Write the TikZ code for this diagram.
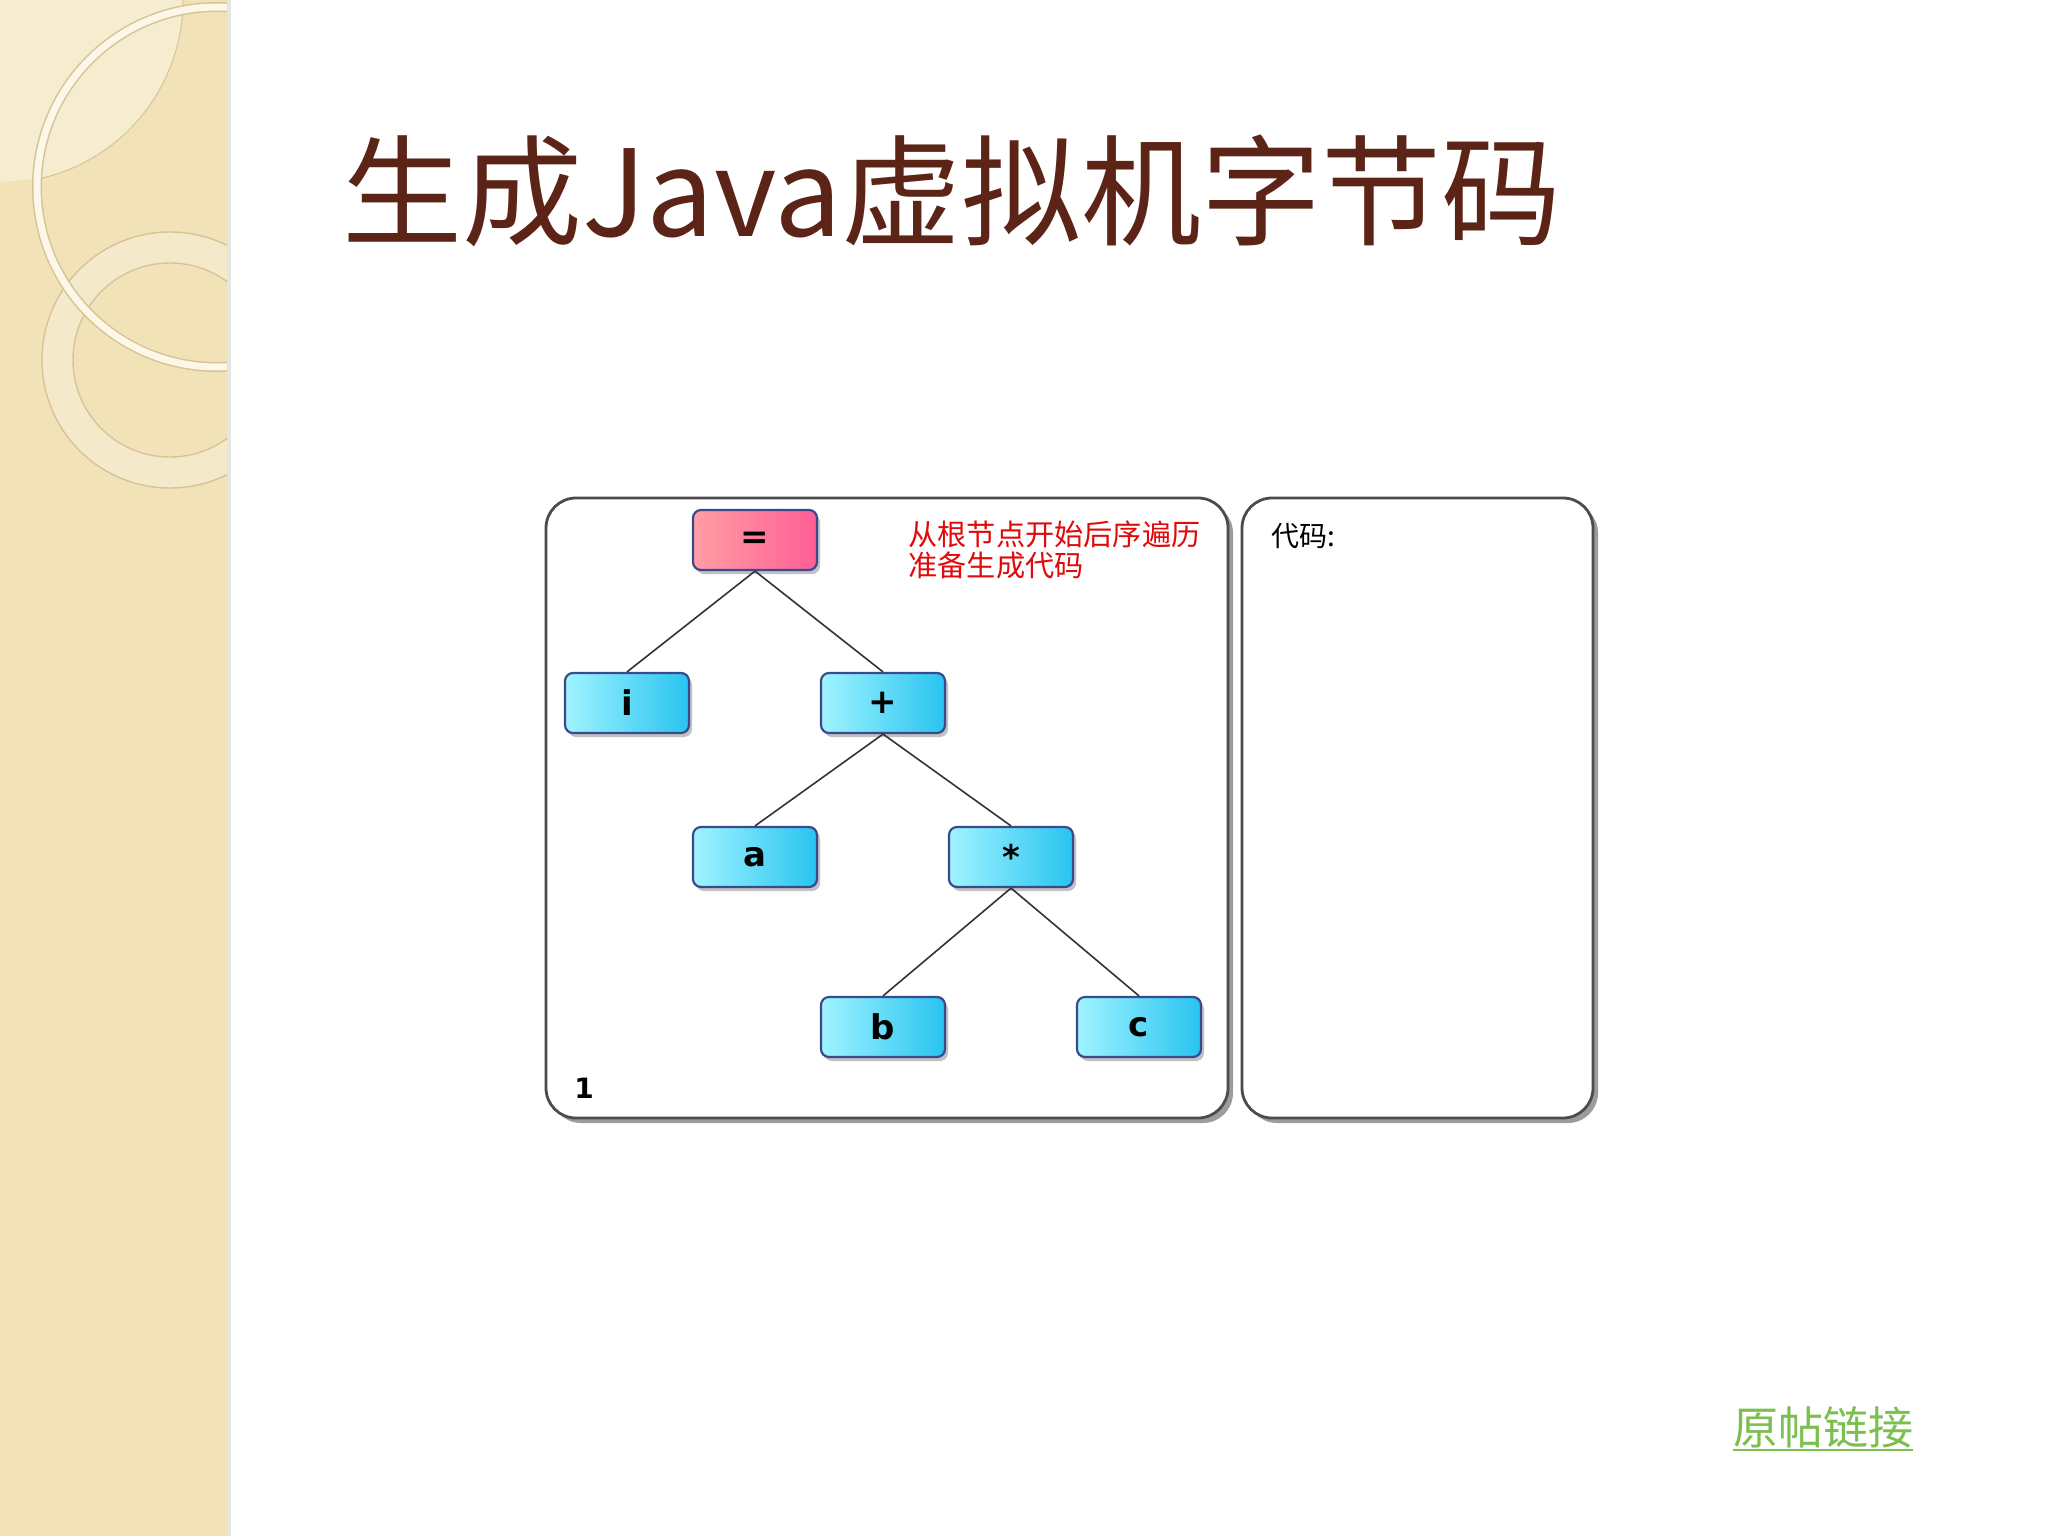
\documentclass[tikz,border=0pt]{standalone}
\usepackage{fontspec}
\newfontfamily\cjk{Noto Sans CJK SC}
\newfontfamily\lab{DejaVu Sans}
\usetikzlibrary{shadows}
\definecolor{side}{HTML}{F2E2B8}
\definecolor{sideline}{HTML}{D8C394}
\definecolor{ringc}{HTML}{FCF7E8}
\definecolor{ringb}{HTML}{F5E9CB}
\definecolor{titlec}{HTML}{5C2416}
\definecolor{cyl}{HTML}{A0F4FF}
\definecolor{cyd}{HTML}{28C3F0}
\definecolor{pkl}{HTML}{FF9EA4}
\definecolor{pkd}{HTML}{FF5E96}
\definecolor{boxline}{HTML}{3B4A8C}
\definecolor{notec}{HTML}{E00A0A}
\definecolor{linkc}{HTML}{7BC04E}
\tikzset{
  panel/.style={draw=black!70, line width=1.4pt, rounded corners=15pt, fill=white,
    drop shadow={shadow xshift=2.5pt, shadow yshift=-2.5pt, opacity=0.55, fill=black!70}},
  tbox/.style={draw=boxline, line width=1.1pt, rounded corners=4pt, minimum width=62pt,
    minimum height=30pt, inner sep=0pt, font=\lab\bfseries\fontsize{17}{17}\selectfont,
    drop shadow={shadow xshift=1.5pt, shadow yshift=-2pt, opacity=0.4, fill=black!60}},
  bluebox/.style={tbox, left color=cyl, right color=cyd},
  pinkbox/.style={tbox, left color=pkl, right color=pkd},
  edge/.style={draw=black!80, line width=0.8pt}
}
\begin{document}
\begin{tikzpicture}[x=0.5pt,y=-0.5pt]
\useasboundingbox (0,0) rectangle (2048,1536);
\fill[white] (0,0) rectangle (2048,1536);
% sidebar
\fill[side] (0,0) rectangle (227,1536);
\fill[black!10] (227,0) rectangle (231,1536);
\begin{scope}
\clip (0,0) rectangle (227,1536);
\fill[white, opacity=0.35] (0,0) -- (183,0) arc[start angle=0, end angle=77, radius=183] -- (0,182) -- cycle;
\draw[sideline, line width=0.5pt] (183,0) arc[start angle=0, end angle=77, radius=183];
\draw[ringb, line width=16pt] (170,360) circle[radius=112];
\draw[sideline, line width=0.7pt] (170,360) circle[radius=97];
\draw[sideline, line width=0.7pt] (170,360) circle[radius=128];
\draw[sideline, line width=5pt] (217,187) circle[radius=180];
\draw[ringc, line width=3.5pt] (217,187) circle[radius=180];
\end{scope}
% title
\node[anchor=base west, inner sep=0, text=titlec,
  font=\cjk\fontsize{60}{60}\selectfont] (title) at (342,236) {生成Java虚拟机字节码};
% panels
\path[panel] (546,498) rectangle (1228,1118);
\path[panel] (1242,498) rectangle (1593,1118);
% tree
\node[pinkbox] (eq) at (755,540) {=};
\node[bluebox] (i) at (627,703) {i};
\node[bluebox] (plus) at (883,703) {+};
\node[bluebox] (a) at (755,857) {a};
\node[bluebox] (star) at (1011,857) {*};
\node[bluebox] (b) at (883,1027) {b};
\node[bluebox] (c) at (1139,1027) {c};
\draw[edge] (eq.south) -- (i.north);
\draw[edge] (eq.south) -- (plus.north);
\draw[edge] (plus.south) -- (a.north);
\draw[edge] (plus.south) -- (star.north);
\draw[edge] (star.south) -- (b.north);
\draw[edge] (star.south) -- (c.north);
% texts
\node[anchor=north west, align=left, inner sep=0, text=notec,
  font=\cjk\fontsize{14.6}{15.5}\selectfont] (note) at (908,520) {从根节点开始后序遍历\\准备生成代码};
\node[anchor=west, inner sep=0, font=\cjk\fontsize{14}{14}\selectfont] (code) at (1271,536) {代码:};
\node[inner sep=0, font=\lab\bfseries\fontsize{14}{14}\selectfont] (num) at (584,1088) {1};
% link
\node[anchor=base, inner sep=0, text=linkc, font=\cjk\fontsize{22.5}{22.5}\selectfont] (link) at (1823,1444) {原帖链接};
\draw[linkc, line width=1.2pt] ([yshift=-3pt]link.base west) -- ([yshift=-3pt]link.base east);
\end{tikzpicture}
\end{document}
